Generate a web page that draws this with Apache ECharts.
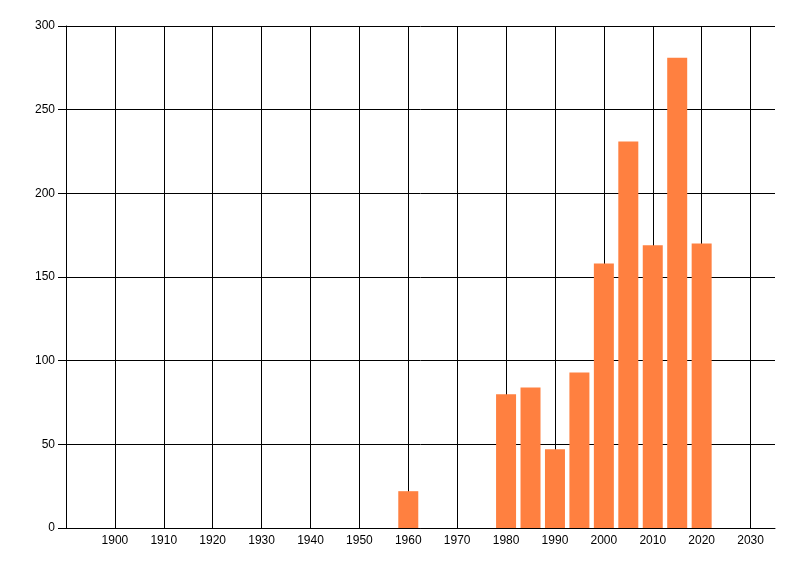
<!DOCTYPE html>
<html>
<head>
<meta charset="utf-8">
<script src="https://cdn.jsdelivr.net/npm/echarts@6/dist/echarts.min.js"></script>
<style>
  html, body { margin: 0; padding: 0; background: #fff; }
  #chart { width: 800px; height: 576px; }
</style>
</head>
<body>
<div id="chart"></div>
<script>
// values
const years = [1960, 1980, 1985, 1990, 1995, 2000, 2005, 2010, 2015, 2020];
const counts = [22, 80, 84, 47, 93, 158, 231, 169, 281, 170];

const barColor = "#ff8040";
const lineColor = "#000";
const labelFont = { color: "#000", fontSize: 12, fontFamily: "Liberation Sans" };

const chart = echarts.init(document.getElementById("chart"), null, { renderer: "canvas" });

chart.setOption({
  animation: false,
  backgroundColor: "#fff",
  grid: { left: 66, right: 25, top: 26, bottom: 48, containLabel: false },
  xAxis: {
    type: "value",
    min: 1890,
    max: 2035,
    interval: 10,
    axisLine: { show: true, lineStyle: { color: lineColor, width: 1 } },
    axisTick: { show: false },
    axisLabel: Object.assign({
      margin: 7, showMinLabel: false, showMaxLabel: false,
      formatter: v => String(v)
    }, labelFont),
    splitLine: { show: true, showMinLine: false, showMaxLine: false, lineStyle: { color: lineColor, width: 1 } }
  },
  yAxis: {
    type: "value",
    min: 0,
    max: 300,
    interval: 50,
    axisLine: { show: true, lineStyle: { color: lineColor, width: 1 } },
    axisTick: { show: true, length: 8, lineStyle: { color: lineColor } },
    axisLabel: Object.assign({ margin: 11, formatter: v => String(v) }, labelFont),
    splitLine: { show: true, lineStyle: { color: lineColor, width: 1 } }
  },
  series: [
    {
      type: "bar",
      barWidth: 20,
      itemStyle: { color: barColor },
      data: years.map((y, i) => [y, counts[i]])
    }
  ]
});
</script>
</body>
</html>
